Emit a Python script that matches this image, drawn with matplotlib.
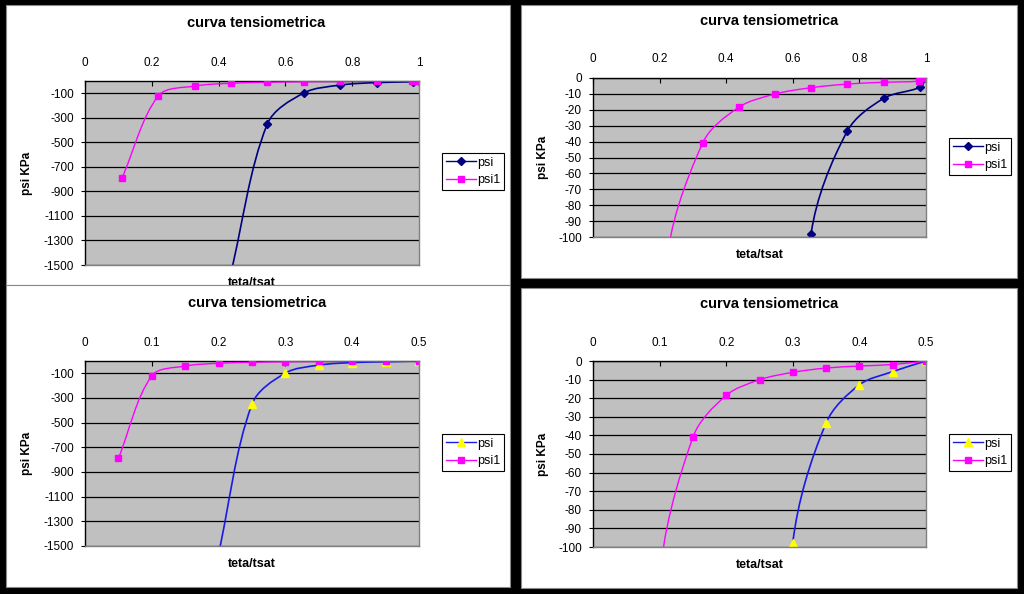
import numpy as np
import matplotlib
matplotlib.use("Agg")
import matplotlib.pyplot as plt
from matplotlib.path import Path
from matplotlib.patches import PathPatch, Rectangle
from matplotlib.lines import Line2D

plt.rcParams['font.family'] = ['Liberation Sans', 'DejaVu Sans']

# ---------------- data ----------------
title = "curva tensiometrica"
xlabel = "teta/tsat"
ylabel = "psi KPa"
series_names = ["psi", "psi1"]

# top charts: x = teta/tsat
x_top_psi = [0.437, 0.546, 0.655, 0.764, 0.873, 0.983, 1.0]
x_top_psi1 = [0.111, 0.220, 0.329, 0.437, 0.546, 0.655, 0.764, 0.873, 0.980, 1.0]
# bottom charts: x = teta
x_bot_psi = [0.20, 0.25, 0.30, 0.35, 0.40, 0.45, 0.50]
x_bot_psi1 = [0.05, 0.10, 0.15, 0.20, 0.25, 0.30, 0.35, 0.40, 0.45, 0.50]

psi_vals = [-1560, -350, -97.9, -33.3, -12.8, -5.7, 0]
psi1_vals = [-790, -120, -41, -18.5, -10.1, -6.1, -3.8, -2.7, -1.9, 0]

xticks_top = [0, 0.2, 0.4, 0.6, 0.8, 1.0]
xticklabels_top = ["0", "0.2", "0.4", "0.6", "0.8", "1"]
xticks_bot = [0, 0.1, 0.2, 0.3, 0.4, 0.5]
xticklabels_bot = ["0", "0.1", "0.2", "0.3", "0.4", "0.5"]
yticks_full = [-100, -300, -500, -700, -900, -1100, -1300, -1500]
yticks_zoom = [0, -10, -20, -30, -40, -50, -60, -70, -80, -90, -100]

# ---------------- layout ----------------
W, H = 1024, 594
fig = plt.figure(figsize=(W / 100, H / 100), dpi=100, facecolor="black")


def fig_rect(l, t, r, b):
    return [l / W, 1 - b / H, (r - l) / W, (b - t) / H]


def smooth_path(ax, x, y):
    """Excel-like smoothed line: Bezier segments whose control points are
    weighted by the on-screen segment lengths."""
    P = ax.transData.transform(np.column_stack([x, y]).astype(float))
    n = len(P)
    verts = [P[0]]
    codes = [Path.MOVETO]
    for i in range(n - 1):
        p1, p2 = P[i], P[i + 1]
        p0 = P[i - 1] if i > 0 else P[i]
        p3 = P[i + 2] if i + 2 < n else P[i + 1]
        d01 = np.hypot(*(p1 - p0))
        d12 = np.hypot(*(p2 - p1))
        d23 = np.hypot(*(p3 - p2))
        c1 = p1 + (p2 - p0) * (d12 / (d01 + d12)) / 3.0 if d01 + d12 > 0 else p1
        c2 = p2 - (p3 - p1) * (d12 / (d12 + d23)) / 3.0 if d12 + d23 > 0 else p2
        verts += [c1, c2, p2]
        codes += [Path.CURVE4] * 3
    verts = ax.transData.inverted().transform(np.array(verts))
    return Path(verts, codes)


panels = [
    dict(panel=(6, 5, 510, 285), ax=(85, 81, 419, 265), z=0,
         xs=(x_top_psi, x_top_psi1), xt=(xticks_top, xticklabels_top), xlim=(0, 1),
         yt=yticks_full, ylim=(-1500, 0), style="top",
         legend=(442, 153), title_xy=(256, 23), xlab_y=283, ylab_x=27),
    dict(panel=(521, 5, 1017, 278), ax=(593, 78, 926, 237), z=0,
         xs=(x_top_psi, x_top_psi1), xt=(xticks_top, xticklabels_top), xlim=(0, 1),
         yt=yticks_zoom, ylim=(-100, 0), style="top",
         legend=(949, 138), title_xy=(769, 21), xlab_y=255, ylab_x=543),
    dict(panel=(6, 285, 510, 587), ax=(85, 361, 419, 546), z=2,
         xs=(x_bot_psi, x_bot_psi1), xt=(xticks_bot, xticklabels_bot), xlim=(0, 0.5),
         yt=yticks_full, ylim=(-1500, 0), style="bot",
         legend=(442, 434), title_xy=(257, 303), xlab_y=564, ylab_x=27),
    dict(panel=(521, 288, 1017, 588), ax=(593, 361, 926, 547), z=2,
         xs=(x_bot_psi, x_bot_psi1), xt=(xticks_bot, xticklabels_bot), xlim=(0, 0.5),
         yt=yticks_zoom, ylim=(-100, 0), style="bot",
         legend=(949, 434), title_xy=(769, 304), xlab_y=565, ylab_x=543),
]

for p in panels:
    l, t, r, b = p["panel"]
    fig.patches.append(Rectangle((l / W, 1 - b / H), (r - l) / W, (b - t) / H,
                                 transform=fig.transFigure, facecolor="white",
                                 edgecolor="#8a8a8a", linewidth=0.8,
                                 zorder=p["z"] - 1))

    al, at, ar, ab = p["ax"]
    ax = fig.add_axes(fig_rect(al, at, ar, ab), zorder=p["z"])
    ax.set_facecolor("#C0C0C0")
    ax.set_xlim(*p["xlim"])
    ax.set_ylim(*p["ylim"])

    # series styles
    if p["style"] == "top":
        psi_line, psi_mk, psi_mfc, psi_mec, psi_ms = "#000080", "D", "#000080", "#000080", 4.5
    else:
        psi_line, psi_mk, psi_mfc, psi_mec, psi_ms = "#1a1ae6", "^", "#FFFF00", "#FFFF00", 6
    pink = "#FF00FF"

    xpsi, xpsi1 = p["xs"]
    ax.add_patch(PathPatch(smooth_path(ax, xpsi, psi_vals), fill=False,
                           edgecolor=psi_line, linewidth=1.2, zorder=3))
    ax.plot(xpsi, psi_vals, linestyle="none", marker=psi_mk, markersize=psi_ms,
            markerfacecolor=psi_mfc, markeredgecolor=psi_mec, zorder=4)
    ax.add_patch(PathPatch(smooth_path(ax, xpsi1, psi1_vals), fill=False,
                           edgecolor=pink, linewidth=1.0, zorder=5))
    ax.plot(xpsi1, psi1_vals, linestyle="none", marker="s", markersize=5,
            markerfacecolor=pink, markeredgecolor=pink, zorder=6)

    # axes
    ax.xaxis.tick_top()
    ax.set_xticks(p["xt"][0])
    ax.set_xticklabels(p["xt"][1])
    ax.set_yticks(p["yt"])
    ax.set_yticklabels([str(v) for v in p["yt"]])
    ax.tick_params(axis="x", direction="in", length=3.5, width=0.8, pad=9,
                   labelsize=8.5, colors="black")
    ax.tick_params(axis="y", direction="out", length=3, width=0.8, pad=5,
                   labelsize=8.5, colors="black")
    ax.yaxis.grid(True, color="black", linewidth=0.9)
    ax.set_axisbelow(True)
    for side in ("top", "left"):
        ax.spines[side].set_color("black")
        ax.spines[side].set_linewidth(1.0)
    for side in ("right", "bottom"):
        ax.spines[side].set_color("#808080")
        ax.spines[side].set_linewidth(1.0)
        ax.spines[side].set_zorder(10)

    # texts
    tx, ty = p["title_xy"]
    ax.set_title(title, x=(tx - al) / (ar - al), y=(ab - ty) / (ab - at), pad=0,
                 va="center", ha="center", fontsize=10.5, fontweight="bold")
    ax.set_xlabel(xlabel, fontsize=9, fontweight="bold")
    ax.xaxis.set_label_coords(0.5, (ab - p["xlab_y"]) / (ab - at))
    ax.xaxis.label.set_va("center")
    ax.set_ylabel(ylabel, fontsize=8.5, fontweight="bold")
    ax.yaxis.set_label_coords((p["ylab_x"] - al) / (ar - al), 0.5)
    ax.yaxis.label.set_va("center")

    handles = [
        Line2D([], [], color=psi_line, linewidth=1.0, marker=psi_mk, markersize=psi_ms - 0.5,
               markerfacecolor=psi_mfc, markeredgecolor=psi_mec),
        Line2D([], [], color=pink, linewidth=1.0, marker="s", markersize=4.5,
               markerfacecolor=pink, markeredgecolor=pink),
    ]
    lx, ly = p["legend"]
    leg = ax.legend(handles, series_names, loc="upper left",
                    bbox_to_anchor=(lx / W, 1 - ly / H), bbox_transform=fig.transFigure,
                    fontsize=9, frameon=True, fancybox=False, shadow=False,
                    framealpha=1, edgecolor="black", numpoints=1,
                    handlelength=2.4, handletextpad=0.1, borderpad=0.3,
                    labelspacing=0.45, borderaxespad=0)
    leg.get_frame().set_linewidth(0.8)

fig.savefig("out.png", dpi=100, facecolor="black")
